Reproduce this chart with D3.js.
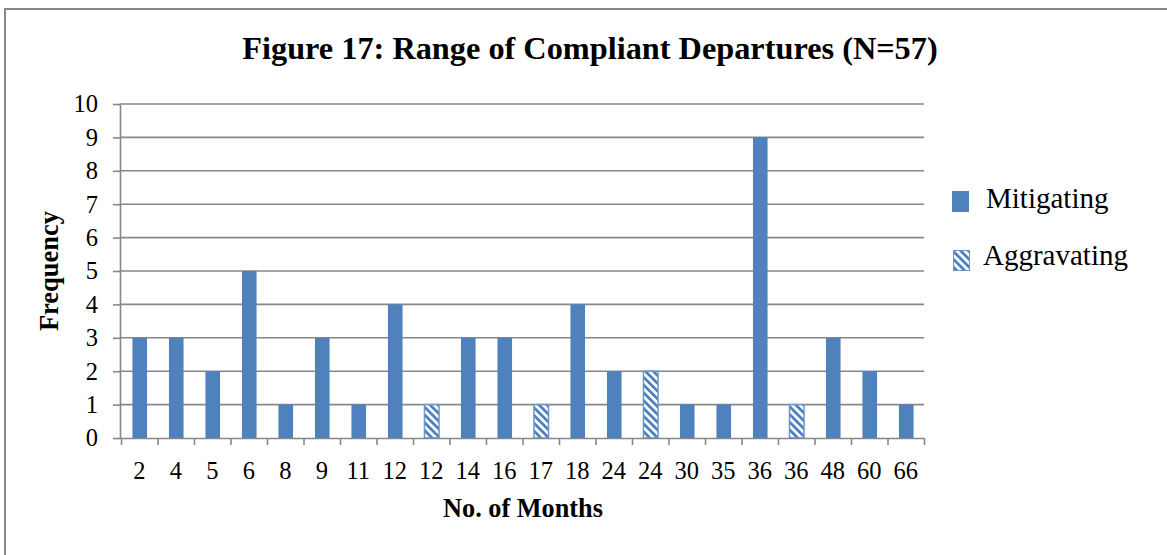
<!DOCTYPE html>
<html>
<head>
<meta charset="utf-8">
<script src="https://cdn.jsdelivr.net/npm/d3@7"></script>
<style>
  html, body { margin: 0; padding: 0; background: #fff; }
  svg { display: block; }
  text { font-family: "Liberation Serif", "Times New Roman", serif; fill: #000; }
</style>
</head>
<body>
<svg id="chart" width="1167" height="555"></svg>
<script>
// ---- data ----
const categories = ["2","4","5","6","8","9","11","12","12","14","16","17","18","24","24","30","35","36","36","48","60","66"];
const mitigating  = [3,3,2,5,1,3,1,4,0,3,3,0,4,2,0,1,1,9,0,3,2,1];
const aggravating = [0,0,0,0,0,0,0,0,1,0,0,1,0,0,2,0,0,0,1,0,0,0];
const yTicks = [0,1,2,3,4,5,6,7,8,9,10];
const seriesNames = ["Mitigating", "Aggravating"];
const titleText = "Figure 17: Range of Compliant Departures (N=57)";
const xTitle = "No. of Months";
const yTitle = "Frequency";

// ---- layout ----
const plotL = 121, plotR = 924, plotT = 104, plotB = 438;
const blue = "#4F81BD", grid = "#878787";

const svg = d3.select("#chart");

// outer border (only left/top visible)
svg.append("rect").attr("x", 5).attr("y", 9).attr("width", 1300).attr("height", 700)
  .attr("fill", "none").attr("stroke", "#878787").attr("stroke-width", 2);

// pattern
const defs = svg.append("defs");
const pat = defs.append("pattern").attr("id", "diag").attr("patternUnits", "userSpaceOnUse")
  .attr("width", 5.5).attr("height", 5.5).attr("patternTransform", "rotate(-45)");
pat.append("rect").attr("width", 5.5).attr("height", 5.5).attr("fill", "#fff");
pat.append("rect").attr("width", 2.8).attr("height", 5.5).attr("fill", blue);

// scales
const idx = categories.map((d, i) => i);
const x = d3.scaleBand().domain(idx).range([plotL, plotR]).paddingInner(0).paddingOuter(0);
const xEdge = d3.scaleLinear().domain([0, categories.length]).range([plotL, plotR]);
const y = d3.scaleLinear().domain([0, 10]).range([plotB, plotT]);

// gridlines
svg.append("g").selectAll("line").data(yTicks.filter(t => t > 0)).join("line")
  .attr("x1", plotL - 1).attr("x2", plotR)
  .attr("y1", d => y(d)).attr("y2", d => y(d))
  .attr("stroke", grid).attr("stroke-width", 1.6);

// bars
const bw = x.bandwidth() * 0.4;
const stacked = idx.map(i => ({ i, m: mitigating[i], a: aggravating[i] }));
svg.append("g").selectAll("rect").data(stacked.filter(d => d.m > 0)).join("rect")
  .attr("x", d => x(d.i) + x.bandwidth() / 2 - bw / 2 + 0.5)
  .attr("width", bw)
  .attr("y", d => y(d.m)).attr("height", d => y(0) - y(d.m))
  .attr("fill", blue);
svg.append("g").selectAll("rect").data(stacked.filter(d => d.a > 0)).join("rect")
  .attr("x", d => x(d.i) + x.bandwidth() / 2 - bw / 2 + 0.5)
  .attr("width", bw)
  .attr("y", d => y(d.m + d.a)).attr("height", d => y(d.m) - y(d.m + d.a))
  .attr("fill", "url(#diag)").attr("stroke", "#6f97cc").attr("stroke-width", 1.5);

// y axis
const yAxis = svg.append("g").attr("transform", `translate(${plotL - 1},0)`)
  .call(d3.axisLeft(y).tickValues(yTicks).tickSize(7).tickSizeOuter(0).tickPadding(15));
yAxis.selectAll("path, line").attr("stroke", grid).attr("stroke-width", 1.6);
yAxis.selectAll("text").attr("font-size", 24.5).attr("font-family", "Liberation Serif, serif").attr("fill", "#000");

// x axis: boundary tick marks
const xTicksAxis = svg.append("g").attr("transform", `translate(0,${plotB})`)
  .call(d3.axisBottom(xEdge).tickValues(d3.range(categories.length + 1)).tickSize(7).tickSizeOuter(0).tickFormat(""));
xTicksAxis.selectAll("path, line").attr("stroke", grid).attr("stroke-width", 1.6);
xTicksAxis.select(".domain").attr("d", `M${plotL - 1},0.5H${plotR}`);

// x axis: labels at band centers
const xLab = svg.append("g").attr("transform", `translate(0,${plotB})`)
  .call(d3.axisBottom(x).tickSize(0).tickPadding(24).tickFormat(i => categories[i]));
xLab.select(".domain").remove();
xLab.selectAll("text").attr("font-size", 24.5).attr("font-family", "Liberation Serif, serif").attr("fill", "#000");

// title
svg.append("text").attr("x", 590).attr("y", 59).attr("text-anchor", "middle")
  .attr("font-size", 32.3).attr("font-weight", "bold").text(titleText);

// axis titles
svg.append("text").attr("x", 523).attr("y", 517).attr("text-anchor", "middle")
  .attr("font-size", 26.3).attr("font-weight", "bold").text(xTitle);
svg.append("text").attr("transform", "translate(58,271) rotate(-90)").attr("text-anchor", "middle")
  .attr("font-size", 26.5).attr("font-weight", "bold").text(yTitle);

// legend
const legend = svg.append("g");
legend.append("rect").attr("x", 952).attr("y", 191).attr("width", 17).attr("height", 21).attr("fill", blue);
legend.append("text").attr("x", 986).attr("y", 208).attr("font-size", 29).text(seriesNames[0]);
legend.append("rect").attr("x", 953.5).attr("y", 250.5).attr("width", 16).attr("height", 20)
  .attr("fill", "url(#diag)").attr("stroke", "#6f97cc").attr("stroke-width", 1);
legend.append("text").attr("x", 983).attr("y", 265).attr("font-size", 29).text(seriesNames[1]);
</script>
</body>
</html>
